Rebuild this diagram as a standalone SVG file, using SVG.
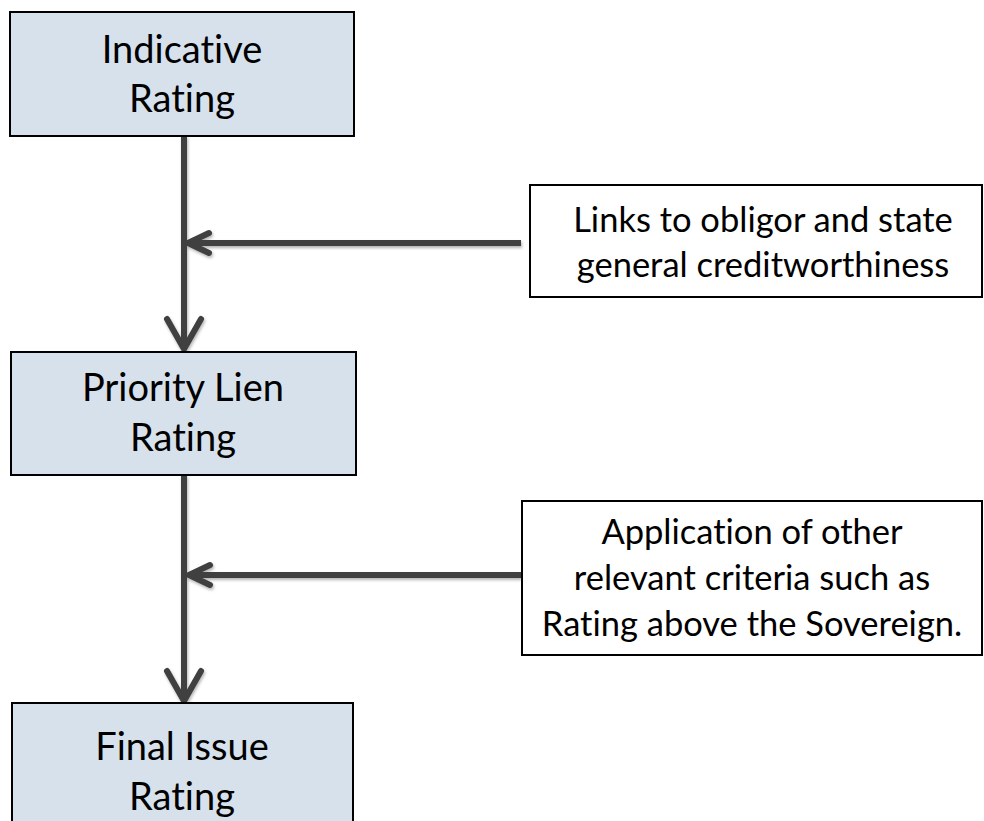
<svg xmlns="http://www.w3.org/2000/svg" width="984" height="821" viewBox="0 0 984 821">
  <style>
    .main { fill: #d7e1eb; stroke: #000; stroke-width: 2; }
    .note { fill: #fff; stroke: #000; stroke-width: 2; }
    .t1 { font-family: Lato, "Open Sans", sans-serif; font-size: 38px; fill: #000; text-anchor: middle; font-variant-ligatures: none; }
    .t2 { font-family: Lato, "Open Sans", sans-serif; font-size: 34.5px; fill: #000; text-anchor: middle; font-variant-ligatures: none; }
    .conn { stroke: #404040; stroke-width: 6; fill: none; }
  </style>
  <defs>
    <filter id="sh" x="-20%" y="-20%" width="140%" height="140%">
      <feDropShadow dx="1" dy="2" stdDeviation="1.5" flood-color="#000" flood-opacity="0.3"/>
    </filter>
    <marker id="big" markerUnits="userSpaceOnUse" viewBox="-36 -22 40 44" markerWidth="40" markerHeight="44" refX="-2" refY="0" orient="auto">
      <path d="M -30 -17 L 0 0 L -30 17" fill="none" stroke="#404040" stroke-width="6" stroke-linecap="round" stroke-linejoin="round"/>
    </marker>
    <marker id="small" markerUnits="userSpaceOnUse" viewBox="-26 -14 30 28" markerWidth="30" markerHeight="28" refX="-2" refY="0" orient="auto">
      <path d="M -21 -10 L 0 0 L -21 10" fill="none" stroke="#404040" stroke-width="6" stroke-linecap="round" stroke-linejoin="round"/>
    </marker>
  </defs>

  <g id="connectors" filter="url(#sh)">
    <path class="conn" d="M 184 136 L 184 347" marker-end="url(#big)"/>
    <path class="conn" d="M 184 475 L 184 699" marker-end="url(#big)"/>
    <path class="conn" d="M 521 243 L 190 243" marker-end="url(#small)"/>
    <path class="conn" d="M 521 575 L 191 575" marker-end="url(#small)"/>
  </g>

  <g id="indicative">
    <rect class="main" x="10" y="12" width="344" height="124"/>
    <text class="t1" x="182" y="63">Indicative</text>
    <text class="t1" x="182" y="112">Rating</text>
  </g>

  <g id="priority">
    <rect class="main" x="11" y="352" width="345" height="123"/>
    <text class="t1" x="183" y="401">Priority Lien</text>
    <text class="t1" x="183" y="451">Rating</text>
  </g>

  <g id="final">
    <rect class="main" x="12" y="703" width="341" height="130"/>
    <text class="t1" x="182" y="760">Final Issue</text>
    <text class="t1" x="182" y="810">Rating</text>
  </g>

  <g id="links">
    <rect class="note" x="530" y="185" width="452" height="112"/>
    <text class="t2" x="763" y="232">Links to obligor and state</text>
    <text class="t2" x="763" y="277">general creditworthiness</text>
  </g>

  <g id="application">
    <rect class="note" x="522" y="501" width="460" height="154"/>
    <text class="t2" x="752" y="544">Application of other</text>
    <text class="t2" x="752" y="590">relevant criteria such as</text>
    <text class="t2" x="752" y="636">Rating above the Sovereign.</text>
  </g>
</svg>
